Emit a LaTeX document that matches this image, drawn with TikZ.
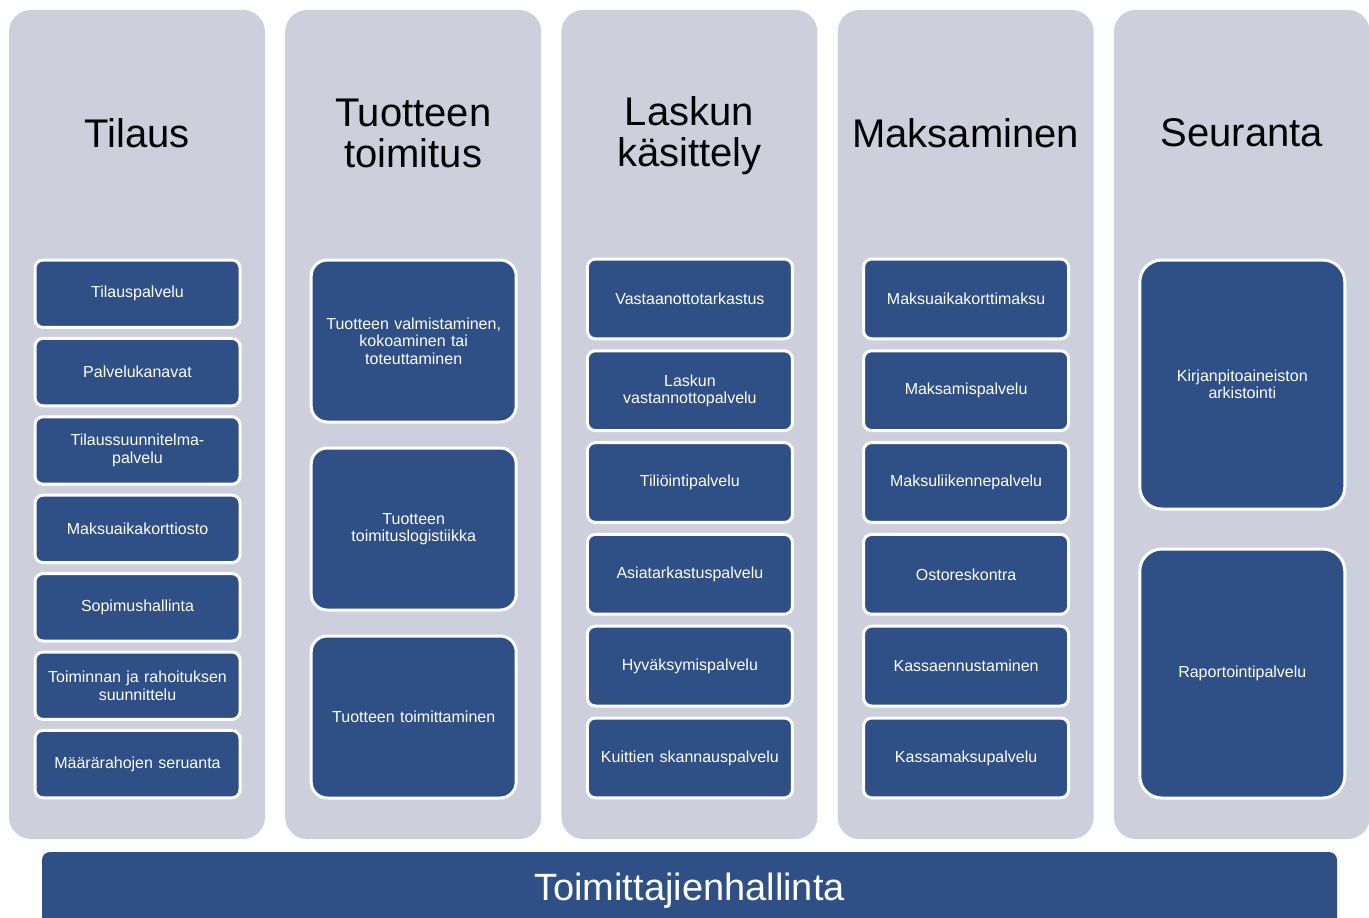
\documentclass[tikz,border=0pt]{standalone}
\usepackage{fontspec}
\setmainfont{Liberation Sans}
\definecolor{panelgrey}{RGB}{205,208,220}
\definecolor{svcblue}{RGB}{47,79,135}

\begin{document}
\begin{tikzpicture}[x=1pt,y=-1pt,
  panelbox/.style={fill=panelgrey, rounded corners=22pt, anchor=north west,
    minimum width=256pt, minimum height=829pt, inner sep=0pt, outer sep=0pt},
  phase/.style={font=\fontsize{40}{41}\selectfont, align=center, text=black, inner sep=0pt},
  svc/.style={fill=svcblue, draw=white, line width=3pt, rounded corners=8pt,
    anchor=north west, minimum width=205pt, text width=195pt, align=center,
    inner sep=0pt, outer sep=0pt, text=white, font=\fontsize{16}{17.5}\selectfont},
  bigsvc/.style={svc, rounded corners=16pt},
]
\useasboundingbox (0,0) rectangle (1369,918);
\clip (0,0) rectangle (1369,918);
\fill[white] (0,0) rectangle (1369,918);

% phase columns
\node[panelbox] (p1) at (9,10) {};
\node[panelbox] (p2) at (285.2,10) {};
\node[panelbox] (p3) at (561.4,10) {};
\node[panelbox] (p4) at (837.6,10) {};
\node[panelbox] (p5) at (1113.8,10) {};

% phase titles
\node[phase] (t1) at (137,133) {Tilaus};
\node[phase] (t2) at (413.2,133) {Tuotteen\\toimitus};
\node[phase] (t3) at (689.4,136) {Laskun\\käsittely};
\node[phase] (t4) at (965.6,133) {Maksaminen};
\node[phase] (t5) at (1241.8,133) {Seuranta};

% Tilaus
\foreach \txt [count=\i] in {{Tilauspalvelu},{Palvelukanavat},{Tilaussuunnitelma-\\palvelu},
    {Maksuaikakorttiosto},{Sopimushallinta},{Toiminnan ja rahoituksen\\suunnittelu},
    {Määrärahojen seruanta}}
  \node[svc, minimum height=67.4pt] (a\i) at (35,{260+(\i-1)*78.4}) {\txt};

% Tuotteen toimitus
\foreach \txt [count=\i] in {{Tuotteen valmistaminen,\\kokoaminen tai\\toteuttaminen},
    {Tuotteen\\toimituslogistiikka},{Tuotteen toimittaminen}}
  \node[bigsvc, minimum height=162pt] (b\i) at (311.2,{260+(\i-1)*188}) {\txt};

% Laskun käsittely
\foreach \txt [count=\i] in {{Vastaanottotarkastus},{Laskun\\vastannottopalvelu},
    {Tiliöintipalvelu},{Asiatarkastuspalvelu},{Hyväksymispalvelu},{Kuittien skannauspalvelu}}
  \node[svc, minimum height=79.8pt] (c\i) at (587.4,{259+(\i-1)*91.8}) {\txt};

% Maksaminen
\foreach \txt [count=\i] in {{Maksuaikakorttimaksu},{Maksamispalvelu},{Maksuliikennepalvelu},
    {Ostoreskontra},{Kassaennustaminen},{Kassamaksupalvelu}}
  \node[svc, minimum height=79.8pt] (d\i) at (863.6,{259+(\i-1)*91.8}) {\txt};

% Seuranta
\node[bigsvc, rounded corners=22pt, minimum height=249pt] (e1) at (1139.8,260)
  {Kirjanpitoaineiston\\arkistointi};
\node[bigsvc, rounded corners=22pt, minimum height=249pt] (e2) at (1139.8,549)
  {Raportointipalvelu};

% supplier management bar
\node[fill=svcblue, rounded corners=8pt, anchor=north west, inner sep=0pt, outer sep=0pt,
  minimum width=1295pt, minimum height=90pt] (bar) at (42,852) {};
\node[font=\fontsize{38}{40}\selectfont, text=white, inner sep=0pt] (barlabel) at (689.5,891)
  {Toimittajienhallinta};
\end{tikzpicture}
\end{document}
